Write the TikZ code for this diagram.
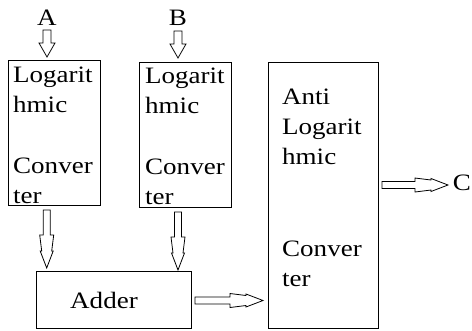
\documentclass[tikz,border=0pt]{standalone}
\usepackage{fontspec}
\setmainfont{Liberation Serif}[FakeStretch=1.15]
\begin{document}
\begin{tikzpicture}[x=1pt,y=1pt,
  box/.style={draw,line width=1pt,inner sep=0pt,anchor=north west},
  txt/.style={anchor=north west,inner sep=0pt,align=left,font=\fontsize{23.5}{30}\selectfont},
  lbl/.style={anchor=base,inner sep=0pt,font=\fontsize{23.5}{30}\selectfont},
  arr/.style={draw,line width=0.8pt,fill=white,line join=miter},
  pics/fatarrow/.style={code={
    \path[arr] (0,-3.5) -- ({#1-33},-3.5) -- ({#1-33},-7) -- ({#1-17},-5) -- ({#1-17},-6.5) -- (#1,0)
      -- ({#1-17},6.5) -- ({#1-17},5) -- ({#1-33},7) -- ({#1-33},3.5) -- (0,3.5) -- cycle;}},
  pics/smallarrow/.style={code={
    \path[arr] (0,-4) -- (13,-4) -- (13,-8) -- (27,0) -- (13,8) -- (13,4) -- (0,4) -- cycle;}}
]
\useasboundingbox (0,0) rectangle (472,-330);
% boxes
\node[box,minimum width=92pt,minimum height=145pt] (L1) at (8,-60) {};
\node[box,minimum width=92pt,minimum height=145pt] (L2) at (139,-62) {};
\node[box,minimum width=110pt,minimum height=266pt] (AL) at (268,-62) {};
\node[box,minimum width=155pt,minimum height=57pt] (AD) at (36,-271) {};
% texts
\node[txt] (t1) at (13,-61) {\strut Logarit\\hmic\\[31pt]Conver\\ter};
\node[txt] (t2) at (145,-62) {\strut Logarit\\hmic\\[31pt]Conver\\ter};
\node[txt] (t3) at (282,-83) {\strut Anti\\Logarit\\hmic\\[62pt]Conver\\ter};
\node[lbl] (t4) at (104,-308) {Adder};
% labels
\node[lbl] (A) at (47,-25) {A};
\node[lbl] (B) at (178,-25) {B};
\node[lbl] (C) at (462,-190) {C};
% arrows
\pic[rotate=-90] at (47,-30) {smallarrow};
\pic[rotate=-90] at (178,-31) {smallarrow};
\pic[rotate=-90] at (46.7,-210) {fatarrow=58};
\pic[rotate=-90] at (178,-212) {fatarrow=58};
\pic at (195,-300.5) {fatarrow=68};
\pic at (382,-185) {fatarrow=66};
\end{tikzpicture}
\end{document}
